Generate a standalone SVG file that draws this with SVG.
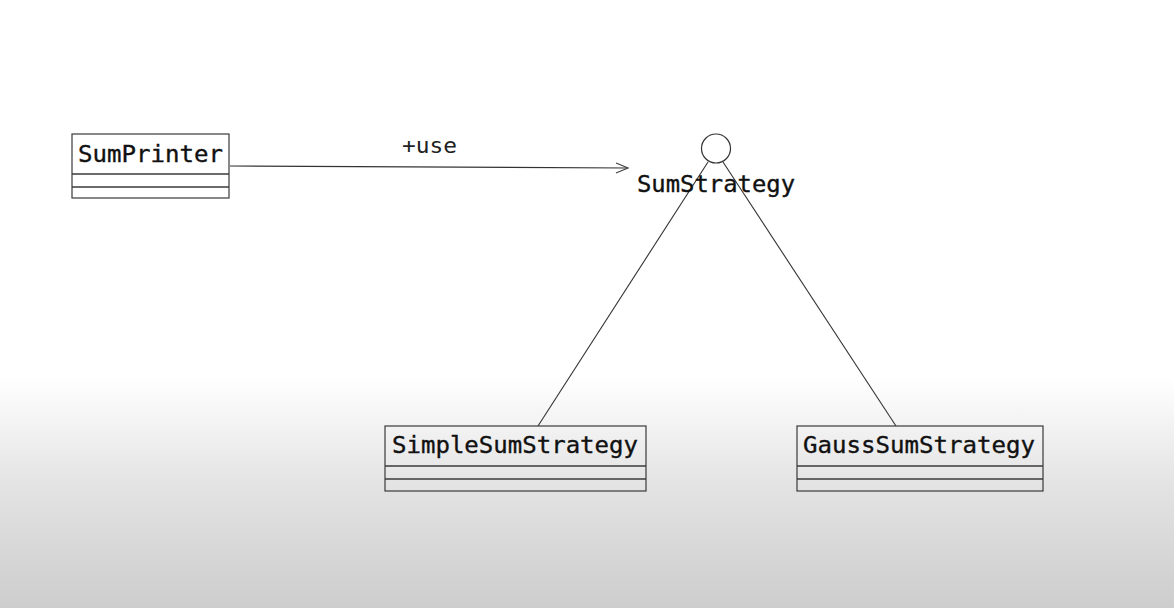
<svg xmlns="http://www.w3.org/2000/svg" width="1174" height="608" viewBox="0 0 1174 608">
  <defs>
    <linearGradient id="bg" x1="0" y1="0" x2="0" y2="1">
      <stop offset="0" stop-color="#ffffff"/>
      <stop offset="0.62" stop-color="#ffffff"/>
      <stop offset="0.8" stop-color="#e3e3e3"/>
      <stop offset="1" stop-color="#cdcdcd"/>
    </linearGradient>
    <marker id="open" viewBox="0 0 14 12" refX="13" refY="6" markerWidth="14" markerHeight="12" markerUnits="userSpaceOnUse" orient="auto">
      <path d="M1,1 L13,6 L1,11" fill="none" stroke="#444" stroke-width="1.2"/>
    </marker>
  </defs>
  <style>
    .box { fill: none; stroke: #3a3a3a; stroke-width: 1.2; }
    .div { stroke: #3a3a3a; stroke-width: 1.6; }
    .name { font-family: "DejaVu Sans Mono", "Liberation Mono", monospace; font-size: 23px; fill: #111; stroke: #111; stroke-width: 0.35; }
    .lbl { font-family: "DejaVu Sans Mono", "Liberation Mono", monospace; font-size: 21px; fill: #222; }
    .conn { fill: none; stroke: #333; stroke-width: 1.1; }
  </style>
  <rect x="0" y="0" width="1174" height="608" fill="url(#bg)"/>

  <g id="connectors">
    <line class="conn" x1="230" y1="166" x2="628" y2="168" marker-end="url(#open)"/>
    <text class="lbl" x="402" y="153" textLength="55" lengthAdjust="spacingAndGlyphs">+use</text>
    <line class="conn" x1="708" y1="162" x2="538" y2="426"/>
    <line class="conn" x1="723" y1="162" x2="896" y2="426"/>
  </g>

  <g id="SumPrinter">
    <rect class="box" x="72" y="134" width="157" height="64"/>
    <line class="div" x1="72" y1="174" x2="229" y2="174"/>
    <line class="div" x1="72" y1="187" x2="229" y2="187"/>
    <text class="name" x="78" y="162" textLength="145" lengthAdjust="spacingAndGlyphs">SumPrinter</text>
  </g>

  <g id="SumStrategy">
    <circle cx="716" cy="148.5" r="14.5" fill="none" stroke="#333" stroke-width="1.2"/>
    <text class="name" x="637" y="192" textLength="158" lengthAdjust="spacingAndGlyphs">SumStrategy</text>
  </g>

  <g id="SimpleSumStrategy">
    <rect class="box" x="385" y="426" width="261" height="65"/>
    <line class="div" x1="385" y1="466" x2="646" y2="466"/>
    <line class="div" x1="385" y1="479" x2="646" y2="479"/>
    <text class="name" x="392" y="453" textLength="246" lengthAdjust="spacingAndGlyphs">SimpleSumStrategy</text>
  </g>

  <g id="GaussSumStrategy">
    <rect class="box" x="797" y="426" width="246" height="65"/>
    <line class="div" x1="797" y1="466" x2="1043" y2="466"/>
    <line class="div" x1="797" y1="479" x2="1043" y2="479"/>
    <text class="name" x="803" y="453" textLength="232" lengthAdjust="spacingAndGlyphs">GaussSumStrategy</text>
  </g>
</svg>
